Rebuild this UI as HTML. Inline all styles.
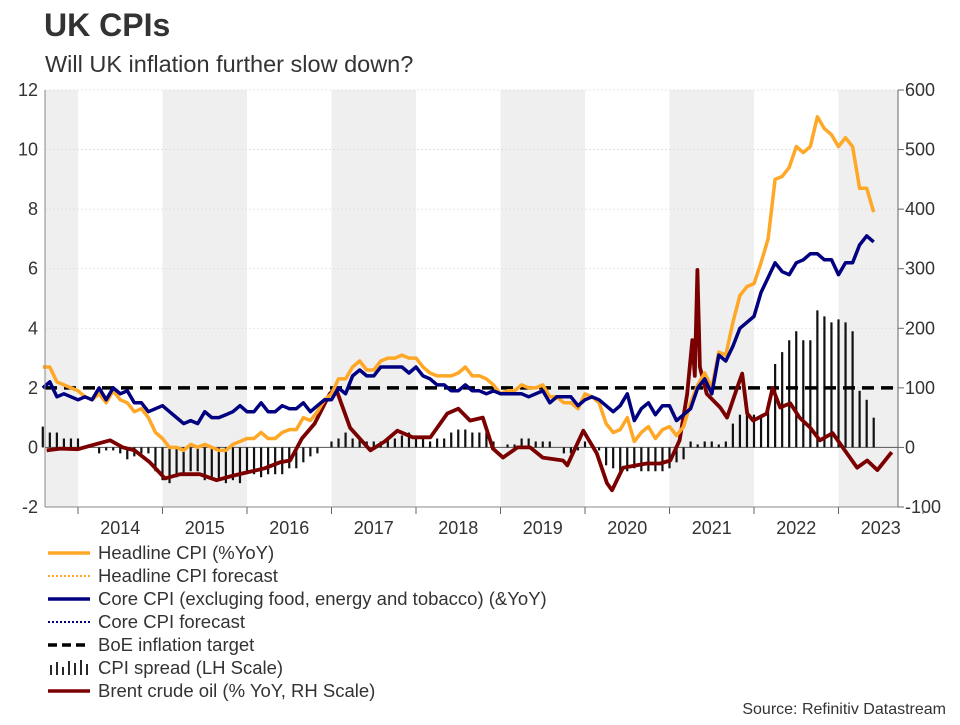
<!DOCTYPE html>
<html><head><meta charset="utf-8"><style>
body{margin:0;background:#fff;width:960px;height:720px;overflow:hidden;font-family:"Liberation Sans",sans-serif;}
svg text{font-family:"Liberation Sans",sans-serif;}
</style></head><body>
<svg id="chart" width="960" height="720" viewBox="0 0 960 720">
<text x="44" y="36" font-size="32" font-weight="bold" fill="#333">UK CPIs</text>
<text x="45" y="72" font-size="23.5" fill="#333">Will UK inflation further slow down?</text>
<g id="bands"></g><g id="grid"></g><g id="bars"></g><g id="lines"></g><g id="axes"></g>
<text x="946" y="714" font-size="16" fill="#333" text-anchor="end">Source: Refinitiv Datastream</text>
<g id="legend"></g>
</svg>
<script>
const headline=[2.7,2.7,2.2,2.1,2.0,
1.9,1.7,1.6,1.8,1.5,1.9,1.6,1.5,1.2,1.3,1.0,0.5,
0.3,0.0,0.0,-0.1,0.1,0.0,0.1,0.0,-0.1,-0.1,0.1,0.2,
0.3,0.3,0.5,0.3,0.3,0.5,0.6,0.6,1.0,0.9,1.2,1.6,
1.8,2.3,2.3,2.7,2.9,2.6,2.6,2.9,3.0,3.0,3.1,3.0,
3.0,2.7,2.5,2.4,2.4,2.4,2.5,2.7,2.4,2.4,2.3,2.1,
1.8,1.9,1.9,2.1,2.0,2.0,2.1,1.7,1.7,1.5,1.5,1.3,
1.8,1.7,1.5,0.8,0.5,0.6,1.0,0.2,0.5,0.7,0.3,0.6,
0.7,0.4,0.7,1.5,2.1,2.5,2.0,3.2,3.1,4.2,5.1,5.4,
5.5,6.2,7.0,9.0,9.1,9.4,10.1,9.9,10.1,11.1,10.7,10.5,
10.1,10.4,10.1,8.7,8.7,7.9];
const core=[2.0,2.2,1.7,1.8,1.7,
1.6,1.7,1.6,2.0,1.6,2.0,1.8,1.9,1.5,1.5,1.2,1.3,
1.4,1.2,1.0,0.8,0.9,0.8,1.2,1.0,1.0,1.1,1.2,1.4,
1.2,1.2,1.5,1.2,1.2,1.4,1.3,1.3,1.5,1.2,1.4,1.6,
1.6,2.0,1.8,2.4,2.6,2.4,2.4,2.7,2.7,2.7,2.7,2.5,
2.7,2.4,2.3,2.1,2.1,1.9,1.9,2.1,1.9,1.9,1.8,1.9,
1.8,1.8,1.8,1.8,1.7,1.8,1.9,1.5,1.7,1.7,1.7,1.4,
1.6,1.7,1.6,1.4,1.2,1.4,1.8,0.9,1.3,1.5,1.1,1.4,
1.4,0.9,1.1,1.3,2.0,2.3,1.8,3.1,2.9,3.4,4.0,4.2,
4.4,5.2,5.7,6.2,5.9,5.8,6.2,6.3,6.5,6.5,6.3,6.3,
5.8,6.2,6.2,6.8,7.1,6.9];
const startYear=2013+7/12;
const brentDates=[2013.63,2013.79,2014.00,2014.20,2014.38,2014.53,2014.67,2014.85,2015.03,2015.21,2015.44,2015.64,2015.82,2016.00,2016.21,2016.39,2016.51,2016.65,2016.80,2016.98,2017.05,2017.22,2017.46,2017.63,2017.78,2017.96,2018.17,2018.37,2018.50,2018.64,2018.79,2018.91,2019.03,2019.20,2019.35,2019.50,2019.74,2019.79,2019.98,2020.14,2020.26,2020.32,2020.45,2020.73,2020.89,2021.01,2021.12,2021.21,2021.27,2021.30,2021.33,2021.36,2021.44,2021.60,2021.68,2021.80,2021.86,2021.92,2021.99,2022.15,2022.22,2022.31,2022.43,2022.54,2022.66,2022.78,2022.93,2023.05,2023.22,2023.34,2023.46,2023.63];
const brent=[-5,-2,-3,5,12,0,-5,-25,-52,-45,-45,-55,-48,-42,-35,-25,-22,15,40,90,100,33,-5,10,28,17,17,57,65,45,50,-2,-17,0,0,-17,-22,-30,28,-10,-60,-72,-34,-27,-27,-22,12,90,180,120,298,135,90,67,50,100,124,57,45,57,100,67,74,50,34,12,24,0,-34,-22,-38,-8];
const leftTicks=[-2,0,2,4,6,8,10,12];
const rightTicks=[-100,0,100,200,300,400,500,600];
const yearLabels=[2014,2015,2016,2017,2018,2019,2020,2021,2022,2023];
const target=2;

const NS="http://www.w3.org/2000/svg";
const L=45,R=898,T=90,B=507;
const xS=t=>78+(t-2014)*84.5;
const yL=v=>B-(v+2)/14*(B-T);
const yR=v=>B-(v+100)/700*(B-T);
function mk(tag,attrs,parent){const e=document.createElementNS(NS,tag);for(const k in attrs)e.setAttribute(k,attrs[k]);document.getElementById(parent).appendChild(e);return e;}
for(const y of [2013,2015,2017,2019,2021,2023]){
 const x1=Math.max(L,xS(y)),x2=Math.min(R,xS(y+1));
 const r=mk('rect',{x:x1,y:T,width:x2-x1,height:B-T,fill:'#efefef'},'bands');
 
 
}
leftTicks.forEach(v=>{
 if(v>-2&&v!==0){const g=mk('line',{x1:L,x2:R,y1:yL(v),y2:yL(v),stroke:'#ddd','stroke-dasharray':'2,2','stroke-width':0.8},'grid');
 
 }
 const t=mk('text',{x:38,y:yL(v)+6,'font-size':18,fill:'#333','text-anchor':'end'},'axes');t.textContent=v;
 
 
});
rightTicks.forEach(v=>{
 mk('line',{x1:R,x2:R+6,y1:yR(v),y2:yR(v),stroke:'#666'},'axes');
 const t=mk('text',{x:905,y:yR(v)+6,'font-size':18,fill:'#333'},'axes');t.textContent=v;
 
 
});
yearLabels.forEach(y=>{
 const t=mk('text',{x:xS(y+0.5),y:534,'font-size':18,fill:'#333','text-anchor':'middle'},'axes');t.textContent=y;
 
 
 mk('line',{x1:xS(y),x2:xS(y),y1:B,y2:B+7,stroke:'#666'},'axes');
});
mk('line',{x1:xS(2024),x2:xS(2024),y1:B,y2:B+7,stroke:'#666'},'axes');
mk('line',{x1:L,x2:L,y1:T,y2:B,stroke:'#888'},'axes');
mk('line',{x1:R,x2:R,y1:T,y2:B,stroke:'#666'},'axes');
mk('line',{x1:L,x2:R,y1:B,y2:B,stroke:'#888'},'axes');
mk('line',{x1:L,x2:R,y1:yL(0),y2:yL(0),stroke:'#555','stroke-width':1},'grid');
headline.forEach((h,i)=>{
 const s=h-core[i];const x=xS(startYear+i/12);
 const b=mk('line',{x1:x,x2:x,y1:yL(0),y2:yL(s),stroke:'#111','stroke-width':2.2},'bars');
 
 
});
function path(xs,ys){return xs.map((x,i)=>(i?'L':'M')+x.toFixed(1)+','+ys[i].toFixed(1)).join('');}
const tgt=mk('line',{x1:L,x2:R,y1:yL(target),y2:yL(target),stroke:'#000','stroke-width':3.5,'stroke-dasharray':'12,7'},'lines');


const br=mk('path',{d:path(brentDates.map(xS),brent.map(yR)),fill:'none',stroke:'#7b0000','stroke-width':3.8,'stroke-linejoin':'round'},'lines');


const hx=headline.map((v,i)=>xS(startYear+i/12));
const hl=mk('path',{d:path(hx,headline.map(yL)),fill:'none',stroke:'#ffa726','stroke-width':3.5,'stroke-linejoin':'round'},'lines');


const cl=mk('path',{d:path(hx,core.map(yL)),fill:'none',stroke:'#000080','stroke-width':3.5,'stroke-linejoin':'round'},'lines');


const leg=[["Headline CPI (%YoY)","#ffa726","solid"],["Headline CPI forecast","#ffa726","dot"],["Core CPI (excluging food, energy and tobacco) (&YoY)","#000080","solid"],["Core CPI forecast","#000080","dot"],["BoE inflation target","#000","dash"],["CPI spread (LH Scale)","#111","bars"],["Brent crude oil (% YoY, RH Scale)","#7b0000","solid"]];
leg.forEach((e,i)=>{
 const y=553+i*23;
 if(e[2]==='bars'){for(let k=0;k<7;k++){const h=[10,13,8,14,12,15,11][k];mk('line',{x1:51+k*6,x2:51+k*6,y1:y+7,y2:y+7-h,stroke:'#111','stroke-width':1.8},'legend');}}
 else{const a={x1:48,x2:90,y1:y,y2:y,stroke:e[1],'stroke-width':e[2]==='dot'?2:3.5};if(e[2]==='dot')a['stroke-dasharray']='2,2';if(e[2]==='dash')a['stroke-dasharray']='9,5';mk('line',a,'legend');}
 const t=mk('text',{x:98,y:y+6,'font-size':18.5,fill:'#333'},'legend');t.textContent=e[0];
 
 
});
</script>
</body></html>
